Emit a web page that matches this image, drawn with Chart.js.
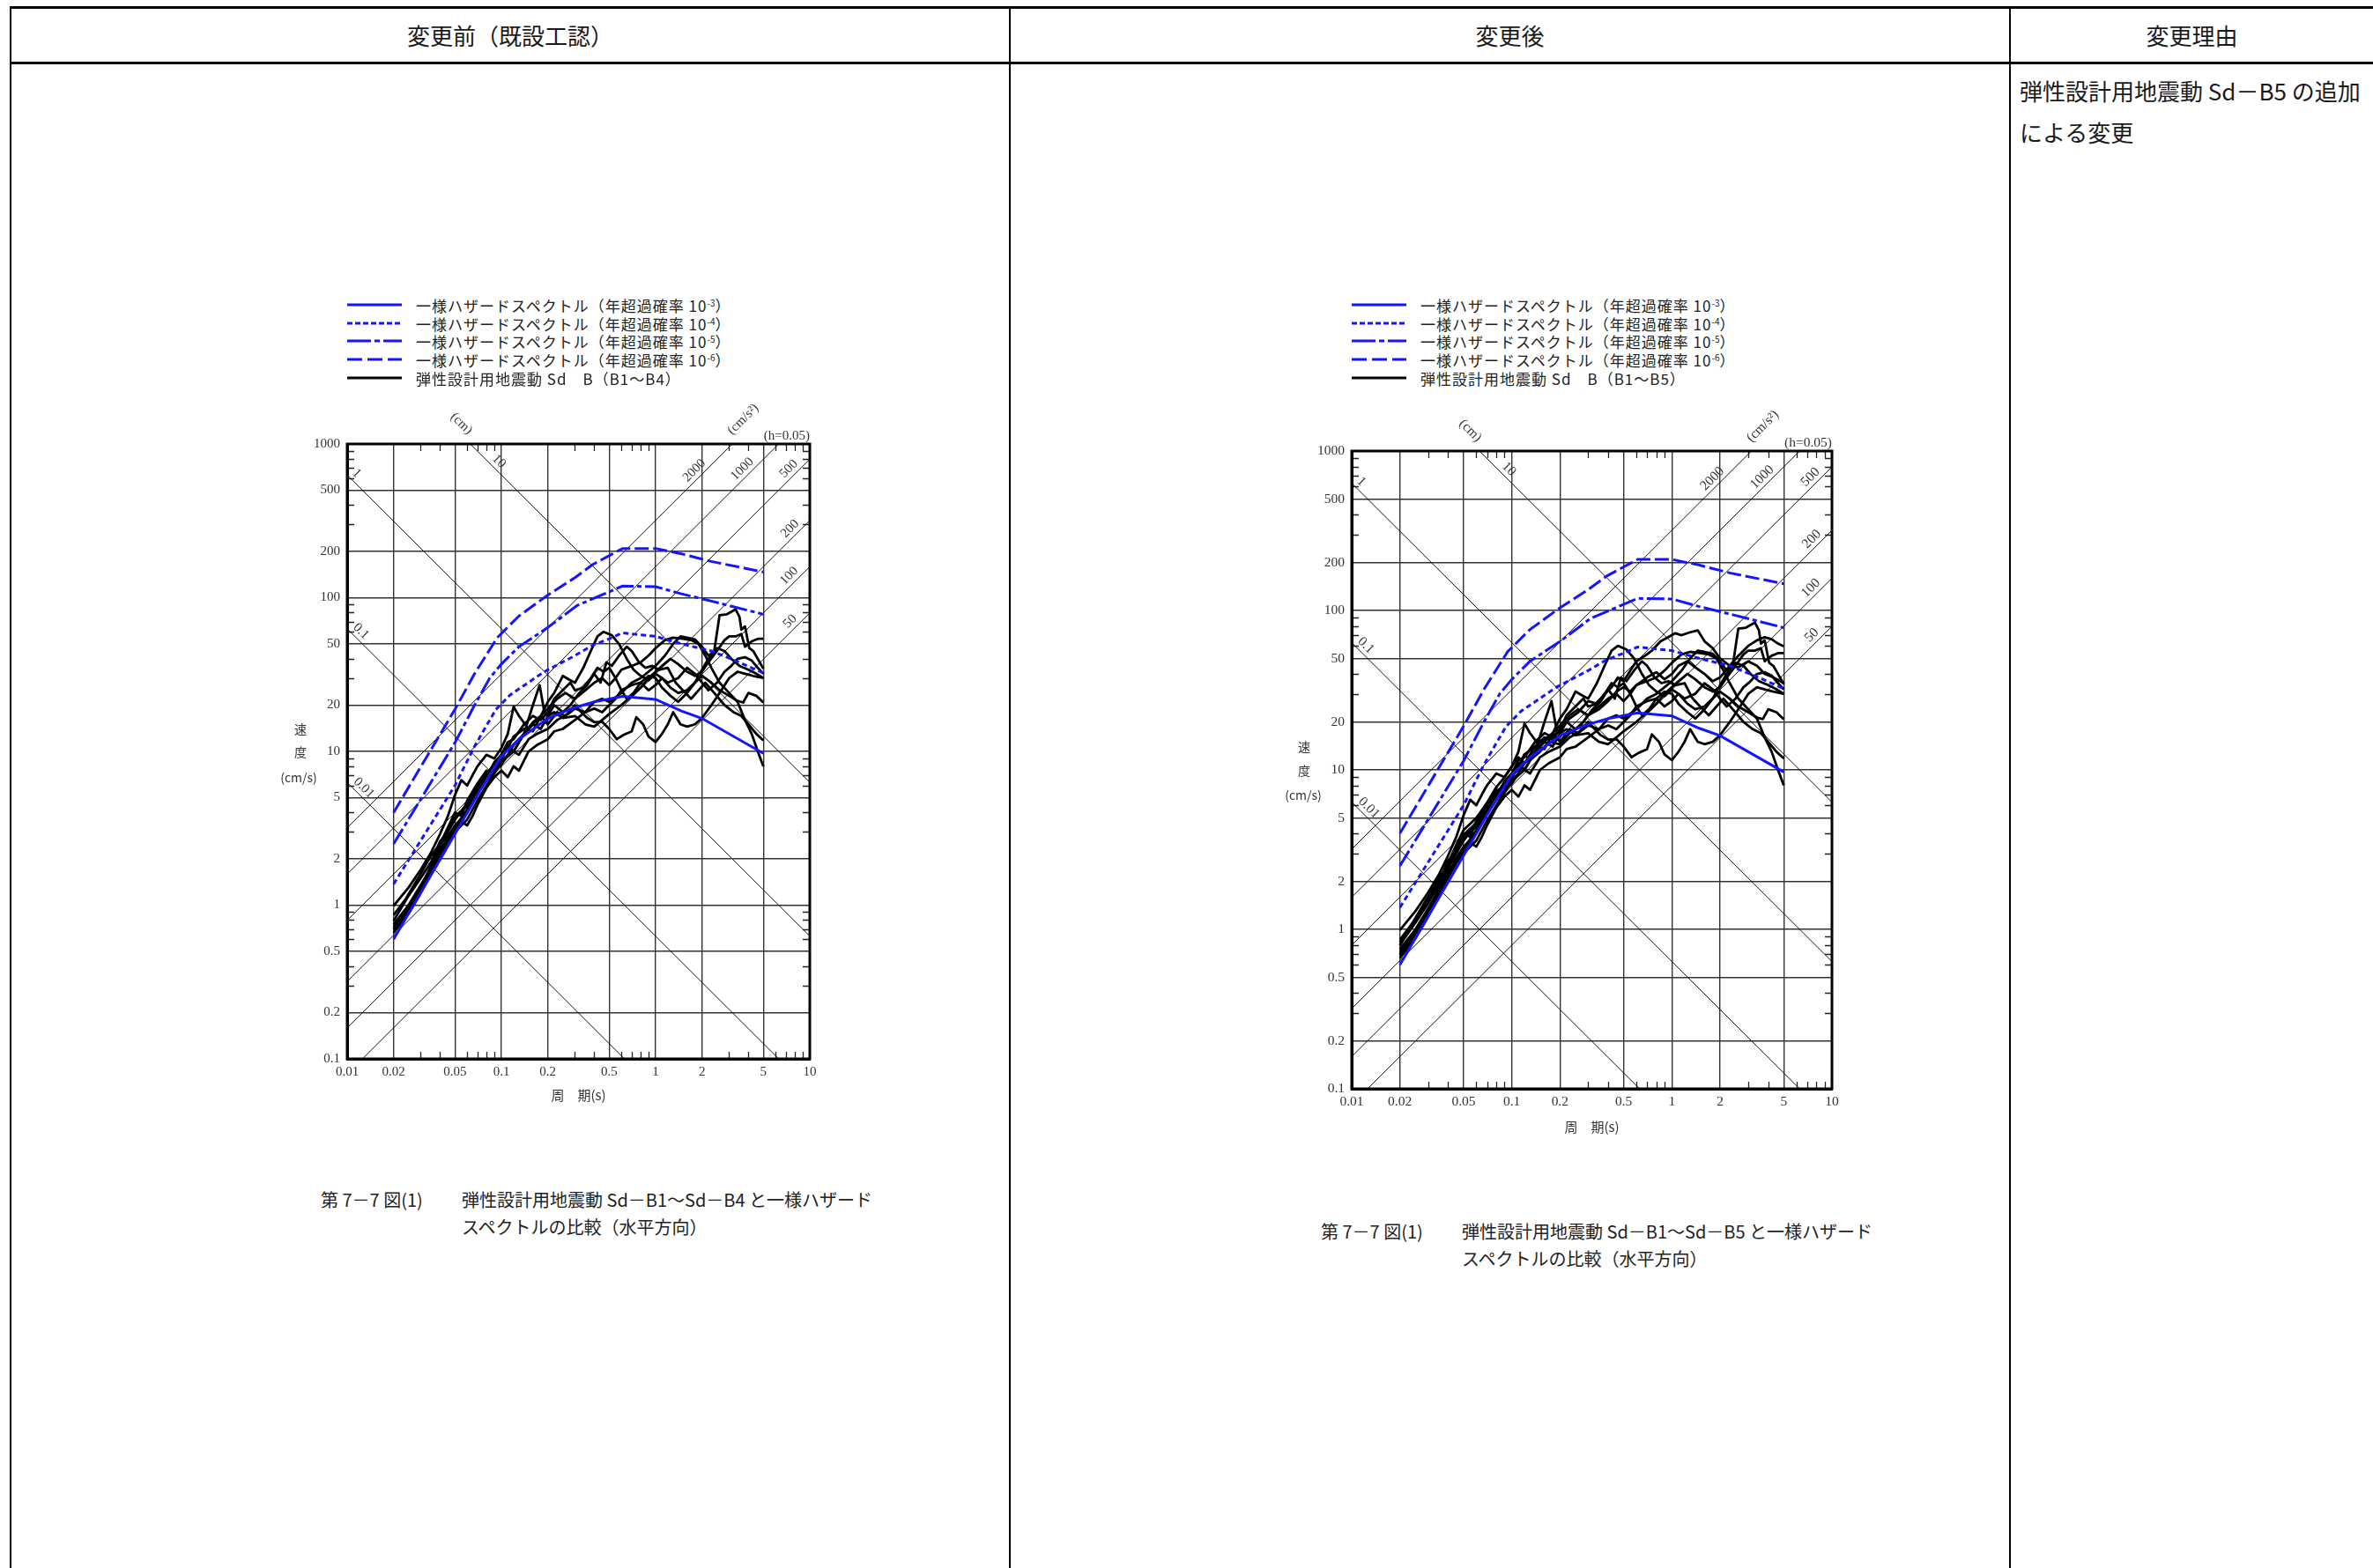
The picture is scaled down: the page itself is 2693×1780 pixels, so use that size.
<!DOCTYPE html>
<html>
<head>
<meta charset="utf-8">
<script src="https://cdn.jsdelivr.net/npm/chart.js@4.4.1/dist/chart.umd.min.js"></script>
<style>
html,body{margin:0;padding:0;background:#fff;}
body{width:2693px;height:1780px;position:relative;overflow:hidden;font-family:"Noto Sans CJK JP","Noto Sans",sans-serif;color:#1a1a1a;}
.ln{position:absolute;background:#000;}
.t{position:absolute;white-space:nowrap;}
.hd{font-size:26px;line-height:30px;text-align:center;top:25px;}
.lg{position:absolute;height:20px;display:flex;align-items:center;font-size:17px;letter-spacing:1px;white-space:nowrap;color:#222;}
.lg svg{flex:none;}
.lg span{margin-left:15px;}
.lg sup{font-size:10px;vertical-align:6px;line-height:0;letter-spacing:0;}
.cap{position:absolute;white-space:nowrap;font-size:20px;line-height:31px;color:#222;}
.yt{position:absolute;white-space:nowrap;font-size:14px;line-height:16px;color:#333;transform:translate(-50%,-50%);}
canvas{position:absolute;}
</style>
</head>
<body>
<!-- table frame -->
<div class="ln" style="left:11px;top:7px;width:2682px;height:3px"></div>
<div class="ln" style="left:11px;top:70px;width:2682px;height:3px"></div>
<div class="ln" style="left:11px;top:7px;width:2px;height:1773px"></div>
<div class="ln" style="left:1145px;top:7px;width:2px;height:1773px"></div>
<div class="ln" style="left:2280px;top:7px;width:2px;height:1773px"></div>

<div class="t hd" style="left:13px;width:1132px">変更前（既設工認）</div>
<div class="t hd" style="left:1147px;width:1133px">変更後</div>
<div class="t hd" style="left:2282px;width:411px">変更理由</div>
<div class="t" style="left:2292px;top:79px;font-size:26px;line-height:47px">弾性設計用地震動 Sd－B5 の追加<br>による変更</div>

<canvas id="chartBefore" width="660" height="820" style="left:300px;top:440px"></canvas>
<canvas id="chartAfter" width="680" height="860" style="left:1440px;top:448px"></canvas>

<!-- legend: before -->
<div class="lg" style="left:393px;top:336px"><svg width="64" height="20"><line x1="1" y1="10" x2="63" y2="10" stroke="#1414ff" stroke-width="3"/></svg><span>一様ハザードスペクトル（年超過確率 10<sup>-3</sup>）</span></div>
<div class="lg" style="left:393px;top:357px"><svg width="64" height="20"><line x1="1" y1="10" x2="63" y2="10" stroke="#1414ff" stroke-width="3" stroke-dasharray="6 3"/></svg><span>一様ハザードスペクトル（年超過確率 10<sup>-4</sup>）</span></div>
<div class="lg" style="left:393px;top:377px"><svg width="64" height="20"><line x1="1" y1="10" x2="63" y2="10" stroke="#1414ff" stroke-width="3" stroke-dasharray="27 4 6 4"/></svg><span>一様ハザードスペクトル（年超過確率 10<sup>-5</sup>）</span></div>
<div class="lg" style="left:393px;top:398px"><svg width="64" height="20"><line x1="1" y1="10" x2="63" y2="10" stroke="#1414ff" stroke-width="3" stroke-dasharray="17 6"/></svg><span>一様ハザードスペクトル（年超過確率 10<sup>-6</sup>）</span></div>
<div class="lg" style="left:393px;top:419px"><svg width="64" height="20"><line x1="1" y1="10" x2="63" y2="10" stroke="#000" stroke-width="3"/></svg><span>弾性設計用地震動 Sd　B（B1～B4）</span></div>

<!-- legend: after -->
<div class="lg" style="left:1533px;top:336px"><svg width="64" height="20"><line x1="1" y1="10" x2="63" y2="10" stroke="#1414ff" stroke-width="3"/></svg><span>一様ハザードスペクトル（年超過確率 10<sup>-3</sup>）</span></div>
<div class="lg" style="left:1533px;top:357px"><svg width="64" height="20"><line x1="1" y1="10" x2="63" y2="10" stroke="#1414ff" stroke-width="3" stroke-dasharray="6 3"/></svg><span>一様ハザードスペクトル（年超過確率 10<sup>-4</sup>）</span></div>
<div class="lg" style="left:1533px;top:377px"><svg width="64" height="20"><line x1="1" y1="10" x2="63" y2="10" stroke="#1414ff" stroke-width="3" stroke-dasharray="27 4 6 4"/></svg><span>一様ハザードスペクトル（年超過確率 10<sup>-5</sup>）</span></div>
<div class="lg" style="left:1533px;top:398px"><svg width="64" height="20"><line x1="1" y1="10" x2="63" y2="10" stroke="#1414ff" stroke-width="3" stroke-dasharray="17 6"/></svg><span>一様ハザードスペクトル（年超過確率 10<sup>-6</sup>）</span></div>
<div class="lg" style="left:1533px;top:419px"><svg width="64" height="20"><line x1="1" y1="10" x2="63" y2="10" stroke="#000" stroke-width="3"/></svg><span>弾性設計用地震動 Sd　B（B1～B5）</span></div>

<!-- y axis titles -->
<div class="yt" style="left:341px;top:827px">速</div>
<div class="yt" style="left:341px;top:853px">度</div>
<div class="yt" style="left:339px;top:882px">(cm/s)</div>
<div class="yt" style="left:1480px;top:847px">速</div>
<div class="yt" style="left:1480px;top:874px">度</div>
<div class="yt" style="left:1479px;top:902px">(cm/s)</div>

<!-- captions -->
<div class="cap" style="left:364px;top:1346px">第 7－7 図(1)</div>
<div class="cap" style="left:524px;top:1346px">弾性設計用地震動 Sd－B1～Sd－B4 と一様ハザード<br>スペクトルの比較（水平方向）</div>
<div class="cap" style="left:1499px;top:1382px">第 7－7 図(1)</div>
<div class="cap" style="left:1659px;top:1382px">弾性設計用地震動 Sd－B1～Sd－B5 と一様ハザード<br>スペクトルの比較（水平方向）</div>

<script>
// ---------- axis values ----------
const periodTicks = [0.01, 0.02, 0.05, 0.1, 0.2, 0.5, 1, 2, 5, 10];
const periodTickLabels = ['0.01', '0.02', '0.05', '0.1', '0.2', '0.5', '1', '2', '5', '10'];
const velocityTicks = [0.1, 0.2, 0.5, 1, 2, 5, 10, 20, 50, 100, 200, 500, 1000];
const velocityTickLabels = ['0.1', '0.2', '0.5', '1', '2', '5', '10', '20', '50', '100', '200', '500', '1000'];
const minorMultipliers = [3, 4, 6, 7, 8, 9];

// tripartite guide lines
const displacementValues = [0.01, 0.1, 1, 10];          // cm
const displacementLabels = ['0.01', '0.1', '1', '10'];
const accelerationValues = [50, 100, 200, 500, 1000, 2000]; // cm/s2
const accelerationLabels = ['50', '100', '200', '500', '1000', '2000'];

// ---------- uniform hazard spectra [period s, velocity cm/s] ----------
const hazard1e3 = [[0.02,0.6],[0.05,2.9],[0.073,5.6],[0.1,9.3],[0.13,12],[0.2,16.4],[0.29,19.1],[0.4,21],[0.61,22.8],[1.0,21.8],[1.47,18.3],[2.0,16.4],[5,9.7]];
const hazard1e4 = [[0.02,1.37],[0.05,6.0],[0.067,10.8],[0.08,14.7],[0.092,18.7],[0.114,23.3],[0.19,33],[0.3,42],[0.39,49],[0.5,54],[0.61,59],[1.0,56],[1.25,52.5],[1.61,49],[2.3,45],[3.55,37.7],[5,32.3]];
const hazard1e5 = [[0.02,2.5],[0.05,11.4],[0.067,20],[0.084,30],[0.1,37],[0.13,48],[0.2,64],[0.31,89],[0.61,119],[1.0,118],[1.47,106],[2.3,95],[5,78]];
const hazard1e6 = [[0.02,4.0],[0.05,18.8],[0.067,32],[0.094,55],[0.13,76],[0.2,104],[0.3,135],[0.39,164],[0.61,209],[1.0,209],[1.47,193],[2.3,172],[5,147]];

// ---------- elastic design ground motions Sd-B ----------
const sdB1a = [[0.02,0.86],[0.024,1.1],[0.03,1.6],[0.035,2.1],[0.04,2.5],[0.045,3.2],[0.05,4.0],[0.055,3.8],[0.06,4.8],[0.07,6.2],[0.08,7.5],[0.09,7.2],[0.1,9.0],[0.11,10.5],[0.12,12.5],[0.14,14],[0.16,13.5],[0.18,17],[0.2,21],[0.22,24],[0.25,31],[0.28,29],[0.3,28],[0.34,35],[0.38,45],[0.42,56],[0.46,60],[0.52,57],[0.58,50],[0.65,40],[0.72,34],[0.8,31],[0.9,29],[1.0,32],[1.1,30],[1.25,26],[1.4,24],[1.6,25],[1.8,28],[2.0,31],[2.3,28],[2.6,25],[3.0,23],[3.4,21.3],[3.7,20.8],[4.0,24],[4.5,23],[5.0,20.8]];
const sdB1b = [[0.02,0.79],[0.025,1.15],[0.03,1.5],[0.035,1.9],[0.04,2.6],[0.045,3.0],[0.05,3.6],[0.06,4.6],[0.07,6.0],[0.08,7.0],[0.09,7.8],[0.1,8.8],[0.12,10],[0.13,9.5],[0.15,12],[0.17,13],[0.2,14],[0.23,16],[0.27,17.5],[0.3,19],[0.35,18],[0.4,21],[0.45,22],[0.5,21],[0.6,24],[0.7,28],[0.8,30],[0.9,33],[1.0,36],[1.15,42],[1.3,50],[1.45,56],[1.6,55],[1.8,53.5],[2.0,48],[2.2,42],[2.4,45],[2.6,77],[2.9,78],[3.3,84],[3.5,75],[3.6,62],[3.8,65],[4.05,47],[4.3,45],[4.6,40],[5.0,34.5]];
const sdB2a = [[0.02,0.75],[0.025,1.0],[0.03,1.35],[0.04,2.2],[0.05,3.2],[0.06,4.2],[0.07,5.5],[0.08,6.8],[0.09,8.5],[0.1,9.5],[0.11,11],[0.12,10],[0.14,13],[0.16,15],[0.18,14],[0.2,17],[0.22,18],[0.25,16.5],[0.3,17],[0.35,15],[0.4,14.5],[0.45,16],[0.5,17.5],[0.6,20],[0.7,23],[0.8,26],[0.9,30],[1.0,33],[1.1,36],[1.25,40],[1.4,37],[1.6,33],[1.8,31],[2.0,33],[2.2,38],[2.5,45],[2.8,53],[3.0,56],[3.3,56],[3.6,58],[3.8,48],[4.2,52],[4.6,54],[5.0,54]];
const sdB2b = [[0.02,0.99],[0.025,1.3],[0.03,1.7],[0.035,2.2],[0.04,2.9],[0.045,3.8],[0.05,5.2],[0.055,6.5],[0.06,6.0],[0.065,7.0],[0.07,8.0],[0.08,9.5],[0.09,9.0],[0.1,10.5],[0.11,13],[0.12,19.5],[0.13,17],[0.15,14],[0.17,16],[0.2,19],[0.23,22],[0.26,24],[0.3,22],[0.35,25],[0.4,28],[0.45,30],[0.5,27],[0.55,30],[0.6,34],[0.7,36],[0.8,38],[0.9,42],[1.0,47],[1.15,53],[1.3,55],[1.5,54],[1.7,53],[1.9,50],[2.1,42],[2.3,35],[2.6,28],[3.0,24],[3.4,21],[3.8,16],[4.2,13],[4.6,10],[5.0,8.0]];
const sdB3a = [[0.02,0.72],[0.025,0.95],[0.03,1.3],[0.035,1.8],[0.04,2.5],[0.045,2.8],[0.05,3.3],[0.06,4.0],[0.07,5.3],[0.08,6.5],[0.09,7.5],[0.1,8.2],[0.11,9.5],[0.12,11],[0.14,13],[0.16,15.5],[0.18,17],[0.2,15],[0.23,18],[0.26,17],[0.3,20],[0.33,18],[0.36,16.5],[0.4,15.5],[0.45,15.6],[0.5,14],[0.56,12],[0.62,12.8],[0.7,13.5],[0.75,16.7],[0.83,15],[0.9,12.5],[1.0,11.5],[1.1,13],[1.2,15],[1.3,18],[1.45,15],[1.6,14.5],[1.8,15],[2.0,16.5],[2.3,20],[2.6,24],[3.0,30],[3.4,33],[3.8,32],[4.3,31],[5.0,30]];
const sdB3b = [[0.02,0.69],[0.025,0.9],[0.03,1.25],[0.035,1.7],[0.04,2.3],[0.045,2.7],[0.05,3.0],[0.06,3.6],[0.07,4.8],[0.08,6.0],[0.09,7.2],[0.1,8.5],[0.12,10],[0.14,13],[0.16,20],[0.177,27],[0.19,18],[0.2,17],[0.22,20],[0.25,18],[0.28,20],[0.32,24],[0.36,27],[0.4,32],[0.44,28],[0.48,38],[0.52,36],[0.58,42],[0.65,48],[0.7,45],[0.78,38],[0.86,35],[0.95,36],[1.05,34],[1.2,35],[1.35,28],[1.5,25],[1.7,22],[1.9,25],[2.1,28],[2.4,24],[2.8,20],[3.2,18],[3.6,17],[4.0,15],[4.5,13],[5.0,11.8]];
const sdB4a = [[0.02,0.66],[0.025,0.88],[0.03,1.2],[0.035,1.6],[0.04,2.1],[0.045,2.6],[0.05,3.0],[0.055,3.5],[0.06,3.3],[0.065,3.8],[0.07,4.5],[0.08,5.8],[0.09,6.8],[0.1,7.5],[0.11,6.8],[0.12,8],[0.13,7.5],[0.15,10],[0.17,11],[0.2,12],[0.22,13.5],[0.25,14],[0.3,16],[0.35,18],[0.4,19],[0.45,18],[0.5,20],[0.55,22],[0.6,25],[0.7,27],[0.8,28],[0.9,25],[1.0,27],[1.1,30],[1.2,28],[1.4,30],[1.6,35],[1.8,32],[2.0,28],[2.2,25],[2.5,28],[2.8,33],[3.1,36],[3.4,40],[3.8,41],[4.2,39],[4.6,35],[5.0,32]];
const sdB4b = [[0.02,0.7],[0.025,0.93],[0.03,1.3],[0.035,1.75],[0.04,2.4],[0.045,3.0],[0.05,3.8],[0.06,4.4],[0.07,5.8],[0.08,7.2],[0.09,8.2],[0.1,9.5],[0.11,11.5],[0.12,12],[0.14,15],[0.16,17],[0.18,16],[0.2,18],[0.22,22],[0.25,25],[0.28,28],[0.3,25],[0.34,26],[0.38,30],[0.42,35],[0.46,33],[0.5,35],[0.55,30],[0.6,25],[0.65,22],[0.72,24],[0.8,28],[0.9,31],[1.0,30],[1.1,26],[1.25,23],[1.4,21],[1.6,24],[1.8,28],[2.0,34],[2.2,40],[2.5,47],[2.8,45],[3.1,40],[3.5,36],[4.0,34],[4.5,32],[5.0,30]];
const sdB5a = [[0.02,0.8],[0.025,1.1],[0.03,1.45],[0.035,1.9],[0.04,2.6],[0.045,3.4],[0.05,4.2],[0.06,5.0],[0.07,6.2],[0.08,7.8],[0.09,9],[0.1,10.5],[0.11,12],[0.12,11],[0.14,14],[0.16,16],[0.18,15.5],[0.2,18],[0.23,21],[0.26,23],[0.3,27],[0.34,26],[0.38,30],[0.42,33],[0.46,38],[0.5,36],[0.55,42],[0.6,48],[0.68,52],[0.75,56],[0.85,64],[0.95,68],[1.05,72],[1.15,70],[1.3,73],[1.45,75],[1.6,64],[1.8,58],[2.0,50],[2.3,45],[2.6,44],[3.0,48],[3.4,45],[3.8,40],[4.3,38],[5.0,35]];
const sdB5b = [[0.02,0.83],[0.025,1.15],[0.03,1.55],[0.035,2.0],[0.04,2.7],[0.045,3.1],[0.05,3.9],[0.06,4.6],[0.07,5.6],[0.08,6.8],[0.09,8.0],[0.1,9.2],[0.11,10],[0.12,12.5],[0.13,11.5],[0.15,13],[0.17,15],[0.2,14.5],[0.23,17],[0.27,19],[0.3,22],[0.35,24],[0.4,27],[0.45,31],[0.5,33],[0.55,31],[0.6,34],[0.7,38],[0.8,41],[0.9,37],[1.0,40],[1.1,45],[1.25,48],[1.4,44],[1.6,40],[1.8,36],[2.0,38],[2.3,45],[2.6,52],[3.0,60],[3.4,65],[3.8,68],[4.2,66],[4.6,62],[5.0,59.5]];

const sdBefore = [sdB1a, sdB1b, sdB2a, sdB2b, sdB3a, sdB3b, sdB4a, sdB4b];
const sdAfter = [sdB1a, sdB1b, sdB2a, sdB2b, sdB3a, sdB3b, sdB4a, sdB4b, sdB5a, sdB5b];

// ---------- styling / placement (not data) ----------
const BLUE = '#1414ff';
const hazardStyles = [
  {data: hazard1e3, dash: []},
  {data: hazard1e4, dash: [6, 4]},
  {data: hazard1e5, dash: [20, 4, 5, 4]},
  {data: hazard1e6, dash: [16, 5]}
];
const labelPlacement = {
  dispT: [0.0118, 0.0113, 0.0106, 0.0886],
  accT: [8.1, 8.0, 8.1, 7.95, 3.97, 1.94],
  cmT: 0.055,
  accUnitT: 3.7
};

const toPts = arr => arr.map(p => ({x: p[0], y: p[1]}));

function buildDatasets(sdList) {
  const ds = [];
  hazardStyles.forEach(h => ds.push({
    data: toPts(h.data), borderColor: BLUE, borderWidth: 3, borderDash: h.dash,
    pointRadius: 0, fill: false, tension: 0, order: 0
  }));
  sdList.forEach(s => ds.push({
    data: toPts(s), borderColor: '#000', borderWidth: 2.8,
    pointRadius: 0, fill: false, tension: 0, order: 1, borderJoinStyle: 'round'
  }));
  displacementValues.forEach(D => ds.push({
    data: [{x: 0.01, y: 2 * Math.PI * D / 0.01}, {x: 10, y: 2 * Math.PI * D / 10}],
    borderColor: '#111', borderWidth: 1, pointRadius: 0, fill: false, order: 2
  }));
  accelerationValues.forEach(A => ds.push({
    data: [{x: 0.01, y: A * 0.01 / (2 * Math.PI)}, {x: 10, y: A * 10 / (2 * Math.PI)}],
    borderColor: '#111', borderWidth: 1, pointRadius: 0, fill: false, order: 2
  }));
  return ds;
}

const tripartite = {
  id: 'tripartite',
  beforeDatasetsDraw(chart, args, o) {
    const {ctx, chartArea: a, scales: {x, y}} = chart;
    ctx.save();
    ctx.strokeStyle = '#222';
    ctx.lineWidth = 1.3;
    ctx.beginPath();
    for (let d = -2; d <= 0; d++) {
      for (const m of minorMultipliers) {
        const px = Math.round(x.getPixelForValue(m * Math.pow(10, d))) + 0.5;
        ctx.moveTo(px, a.top); ctx.lineTo(px, a.top + o.tickLen);
        ctx.moveTo(px, a.bottom); ctx.lineTo(px, a.bottom - o.tickLen);
      }
    }
    for (let d = -1; d <= 2; d++) {
      for (const m of minorMultipliers) {
        const py = Math.round(y.getPixelForValue(m * Math.pow(10, d))) + 0.5;
        ctx.moveTo(a.left, py); ctx.lineTo(a.left + o.tickLen, py);
        ctx.moveTo(a.right, py); ctx.lineTo(a.right - o.tickLen, py);
      }
    }
    ctx.stroke();
    ctx.restore();
  },
  afterDatasetsDraw(chart, args, o) {
    const {ctx, chartArea: a, scales: {x, y}} = chart;
    ctx.save();
    ctx.lineWidth = 3;
    ctx.strokeStyle = '#000';
    ctx.strokeRect(a.left, a.top, a.right - a.left, a.bottom - a.top);

    ctx.font = o.fs + 'px "Liberation Serif"';
    ctx.fillStyle = '#333';
    ctx.textAlign = 'center';
    ctx.textBaseline = 'middle';
    const angDown = Math.atan2(y.getPixelForValue(1) - y.getPixelForValue(10), x.getPixelForValue(1) - x.getPixelForValue(0.1));
    const put = (txt, px, py, ang, off) => {
      ctx.save();
      ctx.translate(px, py);
      ctx.rotate(ang);
      ctx.fillText(txt, 0, -off);
      ctx.restore();
    };
    displacementValues.forEach((D, i) => {
      const T = labelPlacement.dispT[i];
      put(displacementLabels[i], x.getPixelForValue(T), y.getPixelForValue(2 * Math.PI * D / T), angDown, o.lblOff);
    });
    accelerationValues.forEach((A, i) => {
      const T = labelPlacement.accT[i];
      put(accelerationLabels[i], x.getPixelForValue(T), y.getPixelForValue(A * T / (2 * Math.PI)), -angDown, o.lblOff);
    });
    put('(cm)', x.getPixelForValue(labelPlacement.cmT), a.top - o.cmOff, angDown, 0);
    put('(cm/s²)', x.getPixelForValue(labelPlacement.accUnitT), a.top - o.accOff, -angDown, 0);
    ctx.textAlign = 'right';
    ctx.fillText('(h=0.05)', a.right, a.top - 9);
    ctx.restore();
  }
};

function makeChart(id, box, sdList, fs, xAxisH) {
  const yAxisW = 60;
  return new Chart(document.getElementById(id), {
    type: 'line',
    data: {datasets: buildDatasets(sdList)},
    plugins: [tripartite],
    options: {
      responsive: false,
      maintainAspectRatio: false,
      devicePixelRatio: 1,
      animation: false,
      events: [],
      layout: {padding: {
        left: box.areaLeft - box.left - yAxisW,
        right: box.left + box.width - box.areaRight,
        top: box.areaTop - box.top,
        bottom: box.top + box.height - box.areaBottom - xAxisH
      }},
      plugins: {
        legend: {display: false},
        tooltip: {enabled: false},
        tripartite: {fs: fs, tickLen: 8, lblOff: 9, cmOff: 23, accOff: 28}
      },
      scales: {
        x: {
          type: 'logarithmic', min: 0.01, max: 10,
          afterFit: s => { s.height = xAxisH; },
          afterBuildTicks: s => { s.ticks = periodTicks.map(v => ({value: v})); },
          grid: {color: '#333', lineWidth: 1.4, drawTicks: false},
          border: {display: true, color: '#000', width: 3},
          ticks: {
            autoSkip: false, maxRotation: 0, padding: 6, color: '#333',
            font: {family: 'Liberation Serif', size: fs},
            callback: (v, i) => periodTickLabels[i]
          },
          title: {display: true, text: '周　期(s)', color: '#333', padding: {top: 0, bottom: 0},
            font: {family: 'Noto Sans CJK JP', size: 15}}
        },
        y: {
          type: 'logarithmic', min: 0.1, max: 1000,
          afterFit: s => { s.width = yAxisW; },
          afterBuildTicks: s => { s.ticks = velocityTicks.map(v => ({value: v})); },
          grid: {color: '#333', lineWidth: 1.4, drawTicks: false},
          border: {display: true, color: '#000', width: 3},
          ticks: {
            autoSkip: false, padding: 8, color: '#333',
            font: {family: 'Liberation Serif', size: fs},
            callback: (v, i) => velocityTickLabels[i]
          }
        }
      }
    }
  });
}

makeChart('chartBefore', {left: 300, top: 440, width: 660, height: 820, areaLeft: 394, areaRight: 919, areaTop: 504, areaBottom: 1202}, sdBefore, 15, 50);
makeChart('chartAfter', {left: 1440, top: 448, width: 680, height: 860, areaLeft: 1534, areaRight: 2079, areaTop: 512, areaBottom: 1236}, sdAfter, 15.5, 52);
</script>
</body>
</html>
